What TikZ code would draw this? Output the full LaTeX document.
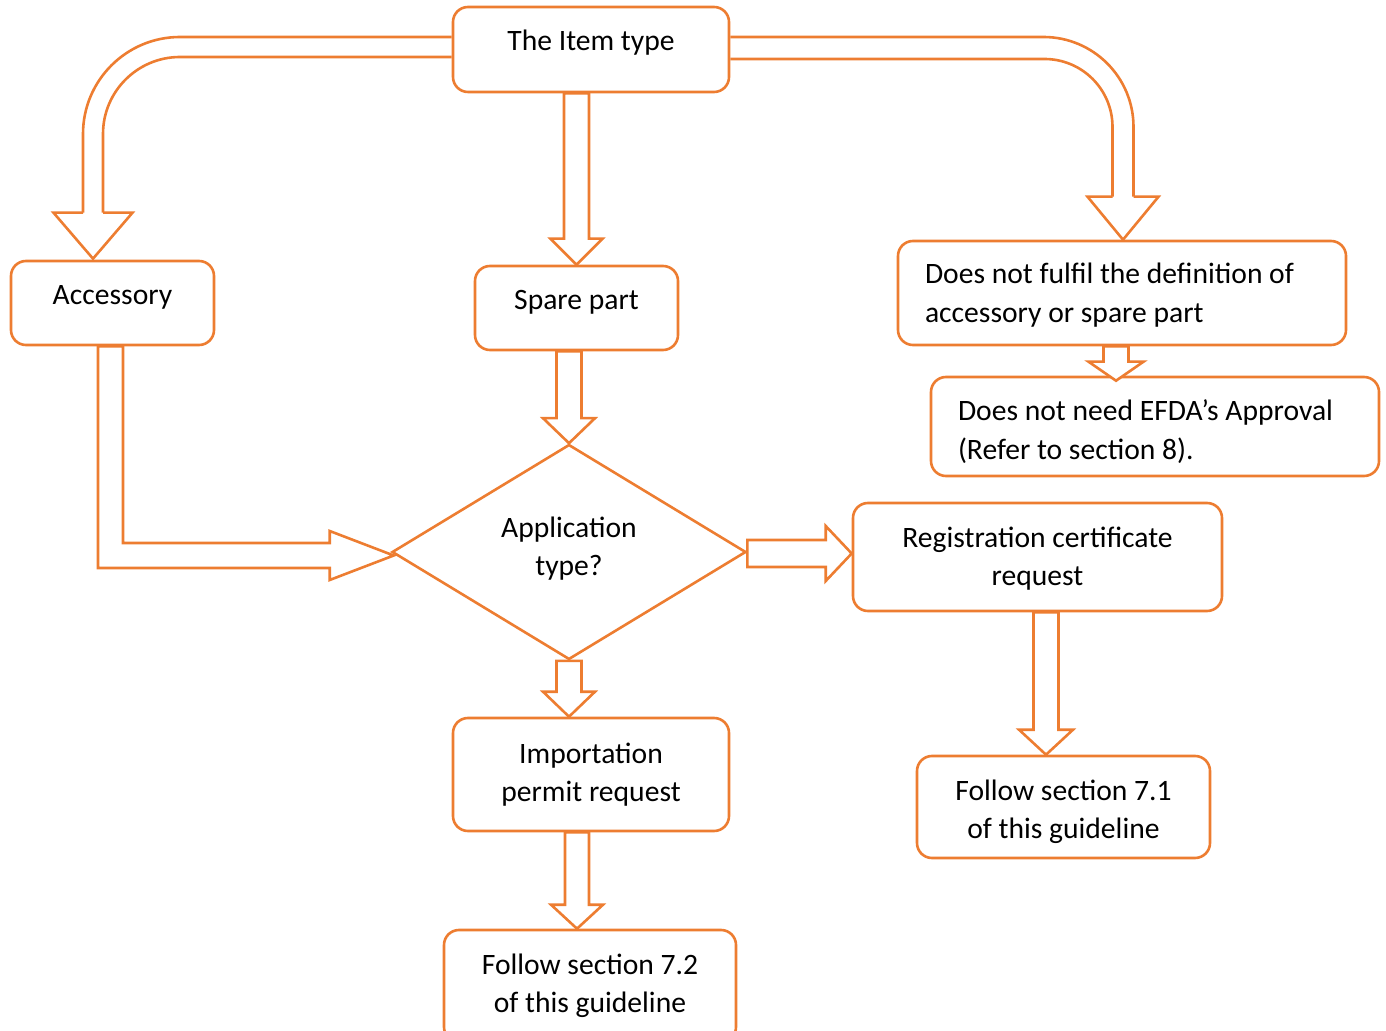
\documentclass[tikz,border=0pt]{standalone}
\usepackage{fontspec}
\setmainfont{Carlito}
\usetikzlibrary{calc,shapes.geometric}
\definecolor{acc2}{HTML}{ED7D31}
\tikzset{
  txtfont/.style={font=\fontsize{14.8}{19.25}\selectfont},
  box/.style={draw=acc2, line width=1.3pt, rounded corners=7.5pt, fill=white, inner sep=0pt, align=center, txtfont},
  one/.style={text height=5.75pt, text depth=4.25pt},
  decision/.style={diamond, draw=acc2, line width=1.3pt, fill=white, inner sep=0pt, shape aspect=1.65, minimum width=177pt, minimum height=107.5pt, align=center, txtfont},
  arr/.style={draw=acc2, line width=1.3pt, fill=white},
  arrl/.style={draw=acc2, line width=1.3pt},
}
% struts fixing first-line height and last-line depth
\newcommand\topst[1]{\rule{0pt}{#1}}
\newcommand\botst{\rule[-8pt]{0pt}{0pt}}
% vertical hollow block arrow: #1 start, #2 tip, #3 shaft half width, #4 head half width, #5 head length
\newcommand\blockv[5]{\path[arr] let \p1=(#1), \p2=(#2) in
  (\x2-#3,\y1) -- (\x2-#3,\y2+#5) -- (\x2-#4,\y2+#5) -- (\x2,\y2) -- (\x2+#4,\y2+#5) -- (\x2+#3,\y2+#5) -- (\x2+#3,\y1) -- cycle;}
% horizontal (rightward) hollow block arrow
\newcommand\blockh[5]{\path[arr] let \p1=(#1), \p2=(#2) in
  (\x1,\y2+#3) -- (\x2-#5,\y2+#3) -- (\x2-#5,\y2+#4) -- (\x2,\y2) -- (\x2-#5,\y2-#4) -- (\x2-#5,\y2-#3) -- (\x1,\y2-#3) -- cycle;}
\begin{document}
\begin{tikzpicture}[x=0.5pt,y=-0.5pt]
\useasboundingbox (0,0) rectangle (1386,1031);
\clip (0,0) rectangle (1386,1031);

% nodes
\node[box, one, minimum width=138pt, minimum height=42.5pt] (item) at (591,49.5) {The Item type};
\node[box, one, minimum width=101.5pt, minimum height=42pt] (acc) at (112.5,303) {Accessory};
\node[box, one, minimum width=101.5pt, minimum height=42pt] (spare) at (576.5,308) {Spare part};
\node[box, align=flush left, text width=197pt, minimum width=224pt, minimum height=52pt] (nof) at (1122,293)
  {\topst{18.25pt}Does not fulfil the definition of\\accessory or spare part\botst};
\node[box, align=flush left, text width=197pt, minimum width=224pt, minimum height=49.5pt] (noneed) at (1155,426.5)
  {\topst{21.75pt}Does not need EFDA’s Approval\\(Refer to section 8).\botst};
\node[decision] (dia) at (569,552) {\topst{12.25pt}Application\\type?\botst};
\node[box, minimum width=184.5pt, minimum height=54pt] (reg) at (1037.5,557)
  {\topst{17.25pt}Registration certificate\\request\botst};
\node[box, minimum width=138pt, minimum height=56.5pt] (imp) at (591,774.5)
  {\topst{15.75pt}Importation\\permit request\botst};
\node[box, minimum width=146pt, minimum height=56pt] (f72) at (590,986)
  {\topst{15.25pt}Follow section 7.2\\of this guideline\botst};
\node[box, minimum width=146.5pt, minimum height=51pt] (f71) at (1063.5,807)
  {\topst{20.25pt}Follow section 7.1\\of this guideline\botst};

% curved arrow: item -> accessory
\draw[arrl, rounded corners=48.5pt] let \p1=(item.west), \p2=($(acc.north)+(-19.5,-1)$) in
  (\x1,\y1+6.25pt) -- (\x2-5pt,\y1+6.25pt) -- (\x2-5pt,\y2+23pt);
\draw[arrl, rounded corners=38.5pt] let \p1=(item.west), \p2=($(acc.north)+(-19.5,-1)$) in
  (\x1,\y1-3.75pt) -- (\x2+5pt,\y1-3.75pt) -- (\x2+5pt,\y2+23pt);
\draw[arrl] let \p2=($(acc.north)+(-19.5,-1)$) in
  (\x2-5pt,\y2+23pt) -- (\x2-19.75pt,\y2+23pt) -- (\x2,\y2) -- (\x2+19.75pt,\y2+23pt) -- (\x2+5pt,\y2+23pt);

% curved arrow: item -> does not fulfil
\draw[arrl, rounded corners=45pt] let \p1=(item.east), \p2=($(nof.north)+(1,0)$) in
  (\x1,\y1+6.25pt) -- (\x2+5.25pt,\y1+6.25pt) -- (\x2+5.25pt,\y2+21.5pt);
\draw[arrl, rounded corners=34pt] let \p1=(item.east), \p2=($(nof.north)+(1,0)$) in
  (\x1,\y1-4.75pt) -- (\x2-5.25pt,\y1-4.75pt) -- (\x2-5.25pt,\y2+21.5pt);
\draw[arrl] let \p2=($(nof.north)+(1,0)$) in
  (\x2-5.25pt,\y2+21.5pt) -- (\x2-17.75pt,\y2+21.5pt) -- (\x2,\y2) -- (\x2+17.75pt,\y2+21.5pt) -- (\x2+5.25pt,\y2+21.5pt);

% straight block arrows
\blockv{item.south}{spare.north}{6.25pt}{13pt}{13pt}
\blockv{spare.south}{dia.north}{6.25pt}{13pt}{12.5pt}
\blockv{dia.south}{dia.south |- imp.north}{6.25pt}{13pt}{12.5pt}
\blockv{imp.south}{$(f72.north)+(-13,0)$}{6pt}{13pt}{12pt}
\blockv{reg.south}{$(f71.north)+(-17.5,0)$}{6.25pt}{13.5pt}{12.5pt}
\blockv{nof.south}{$(noneed.north)+(-39,5)$}{6.25pt}{13.75pt}{9.5pt}
\blockh{dia.east}{$(reg.west)+(0,-3.5)$}{6.75pt}{13.75pt}{13pt}

% L-shaped arrow: accessory -> decision
\path[arr] let \p1=($(acc.south)+(-2,0)$), \p2=($(dia.west)+(3,3.5)$) in
  (\x1-6.25pt,\y1) -- (\x1-6.25pt,\y2-6.25pt) -- (\x2-32pt,\y2-6.25pt) -- (\x2-32pt,\y2-12.25pt)
  -- (\x2,\y2) -- (\x2-32pt,\y2+12.25pt) -- (\x2-32pt,\y2+6.25pt) -- (\x1+6.25pt,\y2+6.25pt)
  -- (\x1+6.25pt,\y1) -- cycle;
\end{tikzpicture}
\end{document}
